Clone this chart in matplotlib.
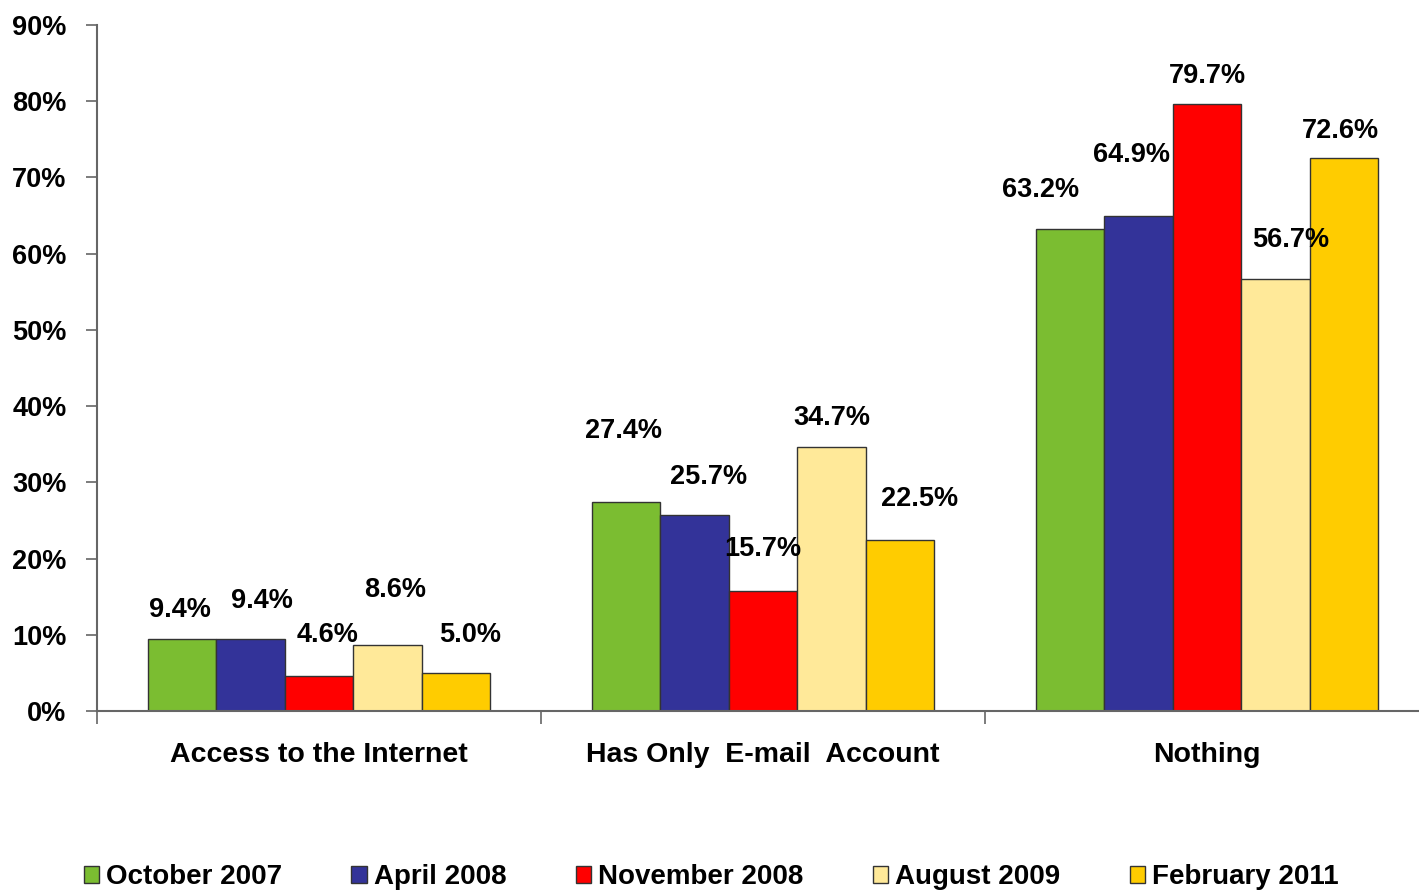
import matplotlib.pyplot as plt
import numpy as np

plt.rcParams['font.family'] = ['Liberation Sans', 'DejaVu Sans']
plt.rcParams['font.weight'] = 'bold'

categories = ['Access to the Internet', 'Has Only  E-mail  Account', 'Nothing']
series = ['October 2007', 'April 2008', 'November 2008', 'August 2009', 'February 2011']
oct_2007 = [9.4, 27.4, 63.2]
apr_2008 = [9.4, 25.7, 64.9]
nov_2008 = [4.6, 15.7, 79.7]
aug_2009 = [8.6, 34.7, 56.7]
feb_2011 = [5.0, 22.5, 72.6]
values = [oct_2007, apr_2008, nov_2008, aug_2009, feb_2011]
colors = ['#7BBD31', '#333399', '#FF0000', '#FFE999', '#FFCC00']

# label nudges in pixels (dx, dy) per series, per category
nudges = [
    [(-2, 29), (-3, 71), (-30, 39)],
    [(11, 38), (14, 38), (-7, 61)],
    [(9, 41), (0, 42), (0, 28)],
    [(8, 55), (0, 29), (15, 39)],
    [(14, 38), (20, 40), (-3, 27)],
]

fig = plt.figure(figsize=(14.19, 8.93), dpi=100)
ax = fig.add_axes([97 / 1419, 1 - 711 / 893, 1332 / 1419, 686 / 893])

x = np.arange(len(categories))
width = 0.154
for i, (vals, col) in enumerate(zip(values, colors)):
    pos = x + (i - 2) * width
    bars = ax.bar(pos, vals, width, color=col, edgecolor='#333333',
                  linewidth=1.0, label=series[i], zorder=2)
    for j, rect in enumerate(bars):
        dx, dy = nudges[i][j]
        ax.annotate('{:.1f}%'.format(vals[j]),
                    xy=(rect.get_x() + rect.get_width() / 2, rect.get_height()),
                    xytext=(dx, dy), textcoords='offset pixels',
                    ha='center', va='center', fontsize=19.5, fontweight='bold')

ax.set_xlim(-0.5, 2.5)
ax.set_ylim(0, 90)
ax.set_yticks(np.arange(0, 91, 10))
ax.set_yticklabels(['{}%'.format(v) for v in range(0, 91, 10)], fontsize=19.5)
ax.set_xticks([-0.5, 0.5, 1.5, 2.5])
ax.set_xticklabels([])
ax.set_xticks(x, minor=True)
ax.set_xticklabels(categories, minor=True, fontsize=20.5)
ax.tick_params(axis='x', which='minor', length=0, pad=22)
ax.tick_params(axis='x', which='major', length=9, width=1.2, color='#666666')
ax.tick_params(axis='y', length=8, width=1.2, color='#666666', pad=14)

for side in ['top', 'right']:
    ax.spines[side].set_visible(False)
for side in ['left', 'bottom']:
    ax.spines[side].set_color('#666666')
    ax.spines[side].set_linewidth(1.5)

fig.legend(loc='center', bbox_to_anchor=(711 / 1419, 1 - 877 / 893), ncol=5,
           frameon=False, fontsize=20, handlelength=0.55, handleheight=0.55,
           handletextpad=0.25, columnspacing=2.5, borderaxespad=0)

fig.savefig('out.png', dpi=100)
